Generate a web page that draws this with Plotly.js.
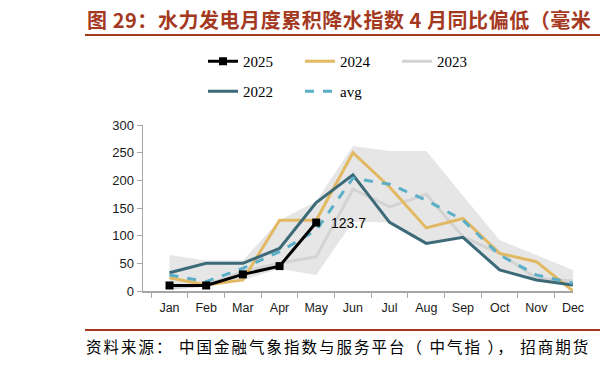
<!DOCTYPE html>
<html>
<head>
<meta charset="utf-8">
<script src="https://cdn.plot.ly/plotly-3.0.1.min.js"></script>
<style>html,body{margin:0;padding:0;background:#fff;}#chart{width:600px;height:365px;}</style>
</head>
<body>
<div id="chart"></div>
<script>
const months = ["Jan","Feb","Mar","Apr","May","Jun","Jul","Aug","Sep","Oct","Nov","Dec"];
const y2025 = [10, 10, 30, 45, 123.7];
const y2024 = [24, 11, 20, 128, 128, 250, 188, 114, 131, 68, 53, 0];
const y2023 = [5, 11, 35, 50, 62, 184, 152, 175, 98, 68, 23, 18];
const y2022 = [33, 50, 50, 77, 160, 210, 124, 86, 97, 38, 20, 11];
const yAvg  = [29, 17, 41, 71, 110, 204, 193, 164, 128, 65, 29, 14];
const bandUpper = [65, 55, 55, 128, 162, 262, 253, 253, 172, 92, 65, 38];
const bandLower = [3, 8, 20, 40, 29, 125, 124, 86, 97, 38, 19, 8];
const labelText = "123.7";

const traces = [
  {x: months, y: bandLower, type: "scatter", mode: "lines", line: {width: 0, color: "rgba(0,0,0,0)"}, showlegend: false, hoverinfo: "skip"},
  {x: months, y: bandUpper, type: "scatter", mode: "lines", line: {width: 0, color: "rgba(0,0,0,0)"}, fill: "tonexty", fillcolor: "#e6e6e6", showlegend: false, hoverinfo: "skip"},
  {x: months, y: y2023, name: "2023", type: "scatter", mode: "lines", line: {color: "#d3d3d3", width: 3}, legend: "legend"},
  {x: months, y: y2024, name: "2024", type: "scatter", mode: "lines", line: {color: "#e2b962", width: 3}, legend: "legend"},
  {x: months, y: y2022, name: "2022", type: "scatter", mode: "lines", line: {color: "#3d6a78", width: 3}, legend: "legend2"},
  {x: months, y: yAvg, name: "avg", type: "scatter", mode: "lines", line: {color: "#5aafc7", width: 3, dash: "dash"}, legend: "legend2"},
  {x: months.slice(0, y2025.length), y: y2025, name: "2025", type: "scatter", mode: "lines+markers", line: {color: "#000000", width: 3}, marker: {symbol: "square", size: 8, color: "#000000"}, legend: "legend"}
];

const L = 143, R = 27, T = 125, B = 74;
const pw = 600 - L - R, ph = 365 - T - B;
const px = v => (v - L) / pw;
const py = v => (365 - B - v) / ph;

const layout = {
  width: 600, height: 365,
  margin: {l: L, r: R, t: T, b: B},
  paper_bgcolor: "#ffffff", plot_bgcolor: "#ffffff",
  font: {family: "Liberation Sans, Arial, sans-serif", color: "#000"},
  xaxis: {
    type: "category", showline: true, linecolor: "#a6a6a6", linewidth: 1.5,
    ticks: "outside", tickson: "boundaries", ticklen: 5, tickcolor: "#a6a6a6",
    showgrid: false, zeroline: false, tickfont: {size: 12.5, color: "#1a1a1a"},
    ticklabelstandoff: 4
  },
  yaxis: {
    range: [0, 300], dtick: 50, showline: true, linecolor: "#a6a6a6", linewidth: 1.5,
    ticks: "outside", ticklen: 5, tickcolor: "#a6a6a6",
    showgrid: false, zeroline: false, tickfont: {size: 13, color: "#1a1a1a"}
  },
  legend: {
    orientation: "h", x: px(203), y: py(45), xanchor: "left", yanchor: "top",
    traceorder: "reversed", font: {family: "Liberation Serif, Times New Roman, serif", size: 15, color: "#000"},
    entrywidth: 52, entrywidthmode: "pixels", bgcolor: "rgba(0,0,0,0)"
  },
  legend2: {
    orientation: "h", x: px(203), y: py(75), xanchor: "left", yanchor: "top",
    font: {family: "Liberation Serif, Times New Roman, serif", size: 15, color: "#000"},
    entrywidth: 52, entrywidthmode: "pixels", bgcolor: "rgba(0,0,0,0)"
  },
  annotations: [
    {xref: "x", yref: "y", x: "May", y: y2025[4], text: labelText, showarrow: false,
     xanchor: "left", yanchor: "middle", xshift: 13, font: {size: 14, color: "#000", family: "Liberation Sans, Arial, sans-serif"}},
    {xref: "paper", yref: "paper", x: px(85), y: py(20), xanchor: "left", yanchor: "middle", showarrow: false,
     text: "<span style=\"letter-spacing:0.55px\"><b>图 29：水力发电月度累积降水指数 4 月同比偏低（毫米</b></span>",
     font: {size: 20, color: "#a5391f", family: "Noto Sans CJK SC, sans-serif"}},
    {xref: "paper", yref: "paper", x: px(84), y: py(346), xanchor: "left", yanchor: "middle", showarrow: false,
     text: "<span style=\"letter-spacing:2px\">资料来源： 中国金融气象指数与服务平台（ 中气指 ）， 招商期货</span>",
     font: {size: 15.5, color: "#000", family: "Noto Sans CJK SC, sans-serif"}}
  ],
  shapes: [
    {type: "line", xref: "paper", yref: "paper", x0: px(85), x1: px(600), y0: py(35), y1: py(35), line: {color: "#a5391f", width: 2}},
    {type: "line", xref: "paper", yref: "paper", x0: px(85), x1: px(600), y0: py(330), y1: py(330), line: {color: "#a5391f", width: 2}}
  ]
};

Plotly.newPlot("chart", traces, layout, {displayModeBar: false, staticPlot: true});
</script>
</body>
</html>
